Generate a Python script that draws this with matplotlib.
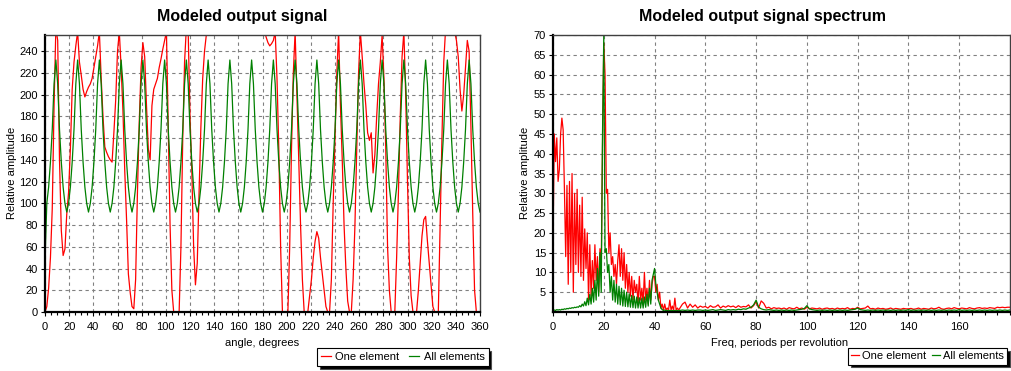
"""Modeled output signal and its spectrum, one element vs all elements."""

import numpy as np
import matplotlib
matplotlib.use("Agg")
import matplotlib.pyplot as plt
from matplotlib.ticker import MultipleLocator

# ---- time domain: samples every 1.5 degrees, 0..360 ----
angle_deg = np.arange(0, 360.01, 1.5)

one_element = [
    0, 5, 22, 50, 95, 190, 262, 250, 140, 75, 52, 58,
    90, 110, 150, 205, 230, 245, 258, 230, 218, 205, 198, 203,
    207, 210, 215, 225, 235, 245, 258, 215, 180, 152, 147, 143,
    140, 138, 165, 195, 240, 258, 225, 185, 130, 85, 35, 18,
    5, 3, 30, 110, 175, 225, 248, 235, 190, 150, 140, 190,
    205, 210, 215, 225, 233, 242, 250, 258, 170, 80, 20, 0,
    0, 0, 0, 60, 160, 230, 262, 258, 180, 130, 60, 25,
    45, 110, 170, 215, 240, 255, 265, 270, 275, 278, 280, 280,
    280, 280, 280, 280, 280, 280, 280, 280, 280, 280, 280, 280,
    280, 280, 280, 280, 280, 280, 280, 280, 280, 278, 275, 270,
    265, 260, 253, 248, 245, 247, 250, 258, 215, 150, 60, 0,
    0, 0, 0, 60, 150, 220, 258, 200, 140, 80, 30, 0,
    0, 0, 15, 30, 50, 65, 74, 68, 50, 35, 20, 5,
    0, 0, 30, 100, 160, 220, 258, 190, 140, 80, 40, 10,
    0, 0, 30, 80, 150, 220, 258, 235, 210, 190, 165, 158,
    165, 128, 145, 180, 210, 230, 255, 215, 150, 60, 20, 0,
    0, 0, 50, 110, 180, 235, 258, 200, 120, 50, 15, 0,
    0, 0, 20, 45, 70, 85, 88, 65, 45, 25, 5, 0,
    0, 0, 80, 160, 230, 260, 270, 275, 270, 265, 258, 250,
    235, 205, 185, 200, 225, 250, 240, 170, 90, 20, 0, 0,
    0,
]

all_elements = [
    48, 100, 115, 138, 168, 210, 232, 210, 168, 138, 115, 100,
    92, 100, 115, 138, 168, 210, 232, 210, 168, 138, 115, 100,
    92, 100, 115, 138, 168, 210, 232, 210, 168, 138, 115, 100,
    92, 100, 115, 138, 168, 210, 232, 210, 168, 138, 115, 100,
    92, 100, 115, 138, 168, 210, 232, 210, 168, 138, 115, 100,
    92, 100, 115, 138, 168, 210, 232, 210, 168, 138, 115, 100,
    92, 100, 115, 138, 168, 210, 232, 210, 168, 138, 115, 100,
    92, 100, 115, 138, 168, 210, 232, 210, 168, 138, 115, 100,
    92, 100, 115, 138, 168, 210, 232, 210, 168, 138, 115, 100,
    92, 100, 115, 138, 168, 210, 232, 210, 168, 138, 115, 100,
    92, 100, 115, 138, 168, 210, 232, 210, 168, 138, 115, 100,
    92, 100, 115, 138, 168, 210, 232, 210, 168, 138, 115, 100,
    92, 100, 115, 138, 168, 210, 232, 210, 168, 138, 115, 100,
    92, 100, 115, 138, 168, 210, 232, 210, 168, 138, 115, 100,
    92, 100, 115, 138, 168, 210, 232, 210, 168, 138, 115, 100,
    92, 100, 115, 138, 168, 210, 232, 210, 168, 138, 115, 100,
    92, 100, 115, 138, 168, 210, 232, 210, 168, 138, 115, 100,
    92, 100, 115, 138, 168, 210, 232, 210, 168, 138, 115, 100,
    92, 100, 115, 138, 168, 210, 232, 210, 168, 138, 115, 100,
    92, 100, 115, 138, 168, 210, 232, 210, 168, 138, 115, 100,
    92,
]

# ---- spectrum: 0.5 steps up to 50, then 1.0 steps to 180 ----
freq = np.concatenate([np.arange(0, 50, 0.5), np.arange(50, 180.01, 1.0)])

spec_one = [
    17, 45, 38, 44, 33, 36, 45, 49, 46, 31,
    14, 32, 7, 33, 10, 35, 5, 30, 12, 31,
    10, 27, 9, 29, 8, 21, 11, 20, 3, 17,
    4, 13, 6, 17, 8, 14, 5, 16, 12, 42,
    68, 60, 30, 31, 15, 20, 12, 14, 9, 12,
    7, 13, 17, 9, 16, 8, 15, 6, 12, 5,
    10, 4, 9, 3, 8, 5, 7, 2, 9, 3,
    6, 2, 10, 3, 6, 2, 8, 3, 7, 9,
    9, 5, 7, 3, 5, 1, 2, 0.5, 2, 0.5,
    1, 0.5, 3, 0.5, 1.5, 0.5, 3.5, 0.5, 1, 0.5,
    # 50 .. 180
    1.0, 2.0, 2.5, 1.0, 2.0, 1.2, 1.8, 1.0, 1.5, 1.2,
    1.4, 1.0, 1.6, 1.2, 1.3, 1.8, 1.0, 1.5, 1.2, 1.6,
    1.3, 1.5, 1.1, 1.6, 1.2, 1.4, 1.3, 1.8, 1.0, 1.6,
    2.6, 1.0, 2.8, 2.2, 1.0, 1.2, 0.8, 1.1, 0.9, 1.0,
    0.8, 1.0, 0.7, 1.1, 0.9, 0.8, 1.2, 0.8, 1.0, 0.7,
    1.2, 0.8, 1.0, 0.9, 0.8, 1.0, 0.7, 0.9, 1.0, 0.8,
    0.9, 0.7, 1.0, 0.8, 0.9, 0.8, 1.1, 0.7, 0.9, 0.8,
    1.2, 0.8, 0.9, 1.0, 1.5, 0.8, 0.9, 0.7, 1.0, 0.8,
    0.9, 0.7, 0.8, 1.0, 0.7, 0.9, 0.8, 0.7, 0.9, 0.8,
    0.8, 0.9, 0.7, 0.8, 1.0, 0.7, 0.9, 0.8, 0.7, 1.0,
    0.8, 0.9, 1.2, 0.8, 0.7, 0.9, 1.0, 0.8, 1.1, 0.9,
    0.8, 1.0, 0.9, 0.8, 1.1, 0.9, 0.8, 1.0, 1.1, 0.9,
    1.0, 0.9, 1.1, 1.0, 0.9, 1.2, 1.1, 1.2, 1.1, 1.2,
    1.2,
]

spec_all = [
    0.3, 0.5, 0.4, 0.6, 0.5, 0.6, 0.5, 0.7, 0.6, 0.8,
    0.7, 0.9, 0.8, 1.0, 0.9, 1.1, 1.0, 1.2, 1.1, 1.3,
    1.2, 1.6, 1.3, 2.0, 1.5, 2.6, 1.6, 3.5, 1.8, 4.5,
    2.0, 6.0, 2.5, 8.0, 3.0, 11.0, 4.0, 15.0, 5.0, 45.0,
    70.0, 15.0, 16.0, 10.0, 12.0, 5.0, 9.0, 3.0, 8.0, 2.5,
    7.0, 2.0, 6.5, 1.8, 6.0, 1.5, 5.5, 1.4, 5.0, 1.3,
    4.6, 1.2, 4.2, 1.1, 4.0, 1.0, 3.8, 1.0, 3.6, 1.0,
    3.5, 1.0, 3.8, 1.2, 4.5, 1.5, 6.0, 2.0, 8.0, 9.5,
    11.0, 7.0, 5.0, 3.0, 2.0, 1.0, 0.6, 0.4, 0.5, 0.3,
    0.4, 0.3, 0.4, 0.3, 0.4, 0.3, 0.4, 0.3, 0.4, 0.3,
    # 50 .. 180
    0.4, 0.5, 0.4, 0.5, 0.4, 0.5, 0.4, 0.5, 0.5, 0.4,
    0.5, 0.4, 0.5, 0.6, 0.4, 0.5, 0.6, 0.5, 0.4, 0.6,
    0.5, 0.6, 0.5, 0.7, 0.6, 0.8, 0.7, 1.0, 1.2, 1.8,
    3.0, 1.2, 0.8, 0.6, 0.5, 0.6, 0.5, 0.4, 0.5, 0.4,
    0.5, 0.4, 0.5, 0.4, 0.5, 0.4, 0.5, 0.6, 0.7, 0.9,
    1.6, 0.8, 0.6, 0.5, 0.4, 0.5, 0.4, 0.5, 0.4, 0.5,
    0.4, 0.5, 0.4, 0.5, 0.4, 0.5, 0.4, 0.5, 0.6, 0.7,
    1.0, 0.6, 0.5, 0.4, 0.5, 0.4, 0.5, 0.4, 0.5, 0.4,
    0.5, 0.4, 0.5, 0.4, 0.5, 0.4, 0.5, 0.4, 0.5, 0.4,
    0.6, 0.4, 0.5, 0.4, 0.5, 0.4, 0.5, 0.4, 0.5, 0.4,
    0.5, 0.4, 0.5, 0.4, 0.5, 0.4, 0.5, 0.4, 0.5, 0.4,
    0.6, 0.4, 0.5, 0.4, 0.5, 0.4, 0.5, 0.4, 0.5, 0.4,
    0.5, 0.4, 0.5, 0.4, 0.5, 0.4, 0.5, 0.4, 0.5, 0.4,
    0.5,
]

series_labels = ["One element", "All elements"]
RED = "#ff0000"
GREEN = "#008000"
W, H = 1012, 371


def style_axes(ax):
    ax.set_facecolor("white")
    for side in ("left", "bottom"):
        ax.spines[side].set_color("black")
        ax.spines[side].set_linewidth(1.6)
    for side in ("top", "right"):
        ax.spines[side].set_color("#404040")
        ax.spines[side].set_linewidth(1.0)
    ax.grid(True, which="major", color="#808080", linestyle=(0, (3, 3)), linewidth=0.8)
    ax.tick_params(which="major", length=3, width=0.8, labelsize=8, pad=2, color="black")
    ax.tick_params(which="minor", length=2, width=0.8, color="black")
    ax.tick_params(axis="x", pad=4)
    for lbl in ax.get_xticklabels() + ax.get_yticklabels():
        lbl.set_family("Liberation Sans")


def add_legend(ax, x_px, compact=False):
    spacing = dict(handlelength=0.9, handletextpad=0.4, columnspacing=0.9, borderpad=0.35)
    if compact:
        spacing = dict(handlelength=0.7, handletextpad=0.3, columnspacing=0.5, borderpad=0.3)
    leg = ax.legend(
        loc="upper left", bbox_to_anchor=(x_px / W, 1 - 348 / H),
        bbox_transform=ax.figure.transFigure, ncol=2, frameon=True,
        fancybox=False, shadow={"facecolor": "black", "alpha": 1.0},
        edgecolor="black", framealpha=1, borderaxespad=0,
        prop={"family": "Liberation Sans", "size": 8}, **spacing,
    )
    leg.get_frame().set_linewidth(0.8)


def main() -> None:
    fig = plt.figure(figsize=(W / 100, H / 100), dpi=100)
    fig.patch.set_facecolor("white")

    # left panel: signal vs angle
    ax1 = fig.add_axes([45 / W, (H - 312) / H, 435 / W, 277 / H])
    ax1.plot(angle_deg, one_element, color=RED, lw=0.9, label=series_labels[0])
    ax1.plot(angle_deg, all_elements, color=GREEN, lw=0.9, label=series_labels[1])
    ax1.set_xlim(0, 360)
    ax1.set_ylim(0, 255)
    ax1.xaxis.set_major_locator(MultipleLocator(20))
    ax1.xaxis.set_minor_locator(MultipleLocator(5))
    ax1.yaxis.set_major_locator(MultipleLocator(20))
    style_axes(ax1)
    add_legend(ax1, 317)

    # right panel: spectrum
    ax2 = fig.add_axes([553 / W, (H - 312) / H, 457 / W, 277 / H])
    ax2.plot(freq, spec_one, color=RED, lw=0.9, label=series_labels[0])
    ax2.plot(freq, spec_all, color=GREEN, lw=0.9, label=series_labels[1])
    ax2.set_xlim(0, 180)
    ax2.set_ylim(0, 70)
    ax2.set_xticks(np.arange(0, 161, 20))
    ax2.xaxis.set_minor_locator(MultipleLocator(5))
    ax2.set_yticks(np.arange(5, 71, 5))
    style_axes(ax2)
    add_legend(ax2, 848, compact=True)

    font = "Liberation Sans"
    fig.text(242 / W, 1 - 17 / H, "Modeled output signal", ha="center", va="center",
             fontsize=11.5, fontweight="bold", family=font)
    fig.text(763 / W, 1 - 17 / H, "Modeled output signal spectrum", ha="center", va="center",
             fontsize=11.5, fontweight="bold", family=font)
    fig.text(262 / W, 1 - 343 / H, "angle, degrees", ha="center", va="center",
             fontsize=8, family=font)
    fig.text(780 / W, 1 - 343 / H, "Freq, periods per revolution", ha="center", va="center",
             fontsize=8, family=font)
    fig.text(12 / W, 1 - 173 / H, "Relative amplitude", ha="center", va="center",
             rotation=90, fontsize=8, family=font)
    fig.text(525 / W, 1 - 173 / H, "Relative amplitude", ha="center", va="center",
             rotation=90, fontsize=8, family=font)

    fig.savefig("out.png", dpi=100, facecolor="white")
    plt.close(fig)


if __name__ == "__main__":
    main()
